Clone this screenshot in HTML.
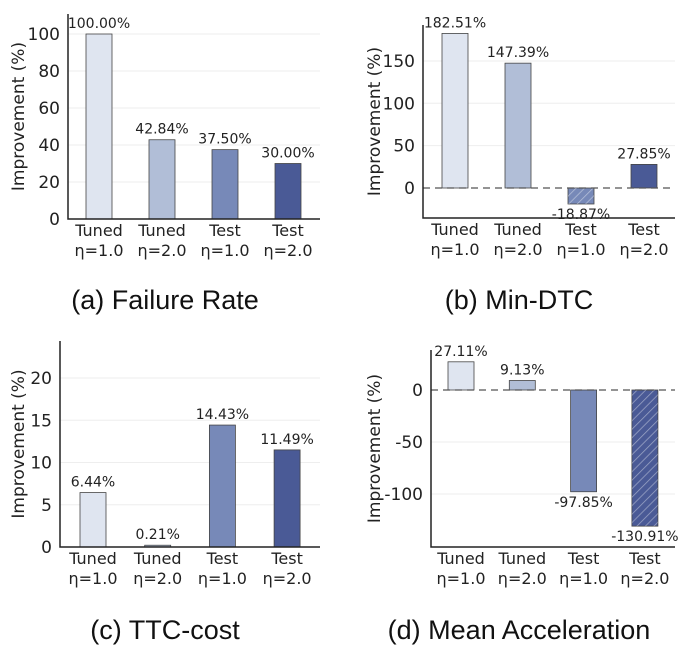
<!DOCTYPE html>
<html><head><meta charset="utf-8">
<style>
body{margin:0;background:#fff;}
svg{display:block;font-family:"DejaVu Sans","Liberation Sans",sans-serif;}
</style></head>
<body>
<svg id="fig" width="681" height="645" viewBox="0 0 681 645" xmlns="http://www.w3.org/2000/svg">
<defs>
<pattern id="hatch" patternUnits="userSpaceOnUse" width="6" height="6" patternTransform="rotate(45)">
<line x1="0" y1="0" x2="0" y2="6" stroke="rgba(255,255,255,0.45)" stroke-width="1.5"/>
</pattern>
</defs>
</svg>
<script>
const categories = ["Tuned|η=1.0","Tuned|η=2.0","Test|η=1.0","Test|η=2.0"];
const failureRate = [100.00, 42.84, 37.50, 30.00];
const minDTC = [182.51, 147.39, -18.87, 27.85];
const ttcCost = [6.44, 0.21, 14.43, 11.49];
const meanAccel = [27.11, 9.13, -97.85, -130.91];
const ticksA = [0,20,40,60,80,100];
const ticksB = [0,50,100,150];
const ticksC = [0,5,10,15,20];
const ticksD = [-100,-50,0];
const colors = ["#dfe5f0","#b1bed7","#7789b8","#4a5a96"];
const hatchB = [false,false,true,false];
const hatchD = [false,false,false,true];

const NS="http://www.w3.org/2000/svg";
const svg=document.getElementById('fig');
function mk(tag,attrs,parent){const e=document.createElementNS(NS,tag);for(const k in attrs)e.setAttribute(k,attrs[k]);(parent||svg).appendChild(e);return e;}

function chart(cfg){
  const g=mk('g',{});
  
  
  const y=v=>cfg.y0+(v)*cfg.scale*-1;
  cfg.ticks.forEach(t=>{
    if(t!==0){const l=mk('line',{x1:cfg.left,x2:cfg.right,y1:y(t),y2:y(t),stroke:'#eeeeee','stroke-width':1},g);
    
    }
    const tx=mk('text',{x:cfg.left-8,y:y(t)+6,'text-anchor':'end','font-size':17,fill:'#222'},g);
    tx.textContent=t;
    
    
  });
  cfg.values.forEach((v,i)=>{
    const cx=cfg.x0+i*cfg.step;
    const top=v>=0?y(v):y(0), h=Math.abs(y(v)-y(0));
    const r=mk('rect',{x:cx-13,y:top,width:26,height:Math.max(h,1),fill:colors[i],stroke:'#444','stroke-width':0.8},g);
    
    
    if(cfg.hatch&&cfg.hatch[i]){mk('rect',{x:cx-13,y:top,width:26,height:h,fill:'url(#hatch)'},g);}
    const lt=mk('text',{x:cx,y:v>=0?y(v)-6:y(v)+15,'text-anchor':'middle','font-size':14,fill:'#222'},g);
    lt.textContent=v.toFixed(2)+'%';
    
    
    const parts=categories[i].split('|');
    const t1=mk('text',{x:cx,y:cfg.bottom+17,'text-anchor':'middle','font-size':16,fill:'#222'},g);
    t1.textContent=parts[0];
    
    
    const t2=mk('text',{x:cx,y:cfg.bottom+37,'text-anchor':'middle','font-size':16,fill:'#222'},g);
    t2.textContent=parts[1];
    
    
  });
  if(cfg.dashedZero){const z=mk('line',{x1:cfg.left,x2:cfg.right,y1:y(0),y2:y(0),stroke:'#555','stroke-width':1.2,'stroke-dasharray':'7,5'},g);
    
    }
  const sp=mk('path',{d:`M${cfg.left},${cfg.top} L${cfg.left},${cfg.bottom} L${cfg.right},${cfg.bottom}`,fill:'none',stroke:'#222','stroke-width':1.5},g);
  
  
  const yl=mk('text',{x:0,y:0,transform:`translate(${cfg.ylx},${(cfg.top+cfg.bottom)/2}) rotate(-90)`,'text-anchor':'middle','font-size':17,fill:'#222'},g);
  yl.textContent='Improvement (%)';
  
  
  const cap=mk('text',{x:cfg.capx,y:cfg.capy,'text-anchor':'middle','font-size':27,fill:'#111','font-family':'Liberation Sans, sans-serif'},g);
  cap.textContent=cfg.caption;
  
  
}

chart({name:'chart-failure-rate',values:failureRate,ticks:ticksA,left:68,right:320,top:14,bottom:219,y0:219,scale:1.85,x0:99,step:63,ylx:24,capx:165,capy:309,caption:'(a) Failure Rate'});
chart({name:'chart-min-dtc',values:minDTC,ticks:ticksB,left:423,right:675,top:25,bottom:218,y0:188,scale:0.847,x0:455,step:63,ylx:380,capx:519,capy:309,caption:'(b) Min-DTC',dashedZero:true,hatch:hatchB});
chart({name:'chart-ttc-cost',values:ttcCost,ticks:ticksC,left:60,right:320,top:341,bottom:547,y0:547,scale:8.45,x0:93,step:64.7,ylx:24,capx:165,capy:639,caption:'(c) TTC-cost'});
chart({name:'chart-mean-acceleration',values:meanAccel,ticks:ticksD,left:431,right:675,top:350,bottom:547,y0:390,scale:1.04,x0:461,step:61.3,ylx:380,capx:519,capy:639,caption:'(d) Mean Acceleration',dashedZero:true,hatch:hatchD});
</script>
</body></html>
